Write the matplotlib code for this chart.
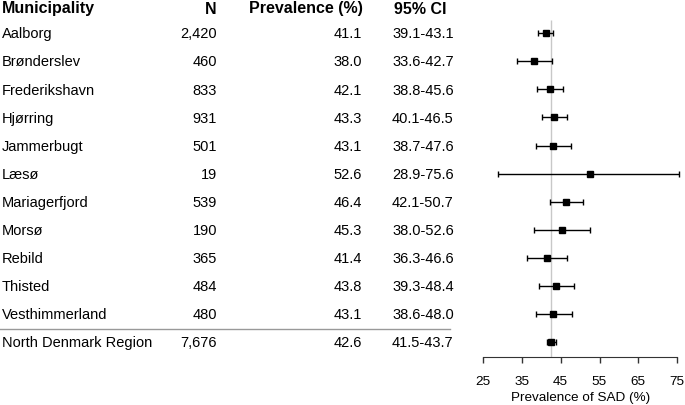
import matplotlib.pyplot as plt
import matplotlib.transforms as mtransforms

plt.rcParams["font.family"] = ["Liberation Sans", "DejaVu Sans"]

municipalities = [
    "Aalborg", "Brønderslev", "Frederikshavn", "Hjørring", "Jammerbugt",
    "Læsø", "Mariagerfjord", "Morsø", "Rebild", "Thisted",
    "Vesthimmerland", "North Denmark Region",
]
n_obs = [2420, 460, 833, 931, 501, 19, 539, 190, 365, 484, 480, 7676]
prevalence = [41.1, 38.0, 42.1, 43.3, 43.1, 52.6, 46.4, 45.3, 41.4, 43.8, 43.1, 42.6]
ci_low = [39.1, 33.6, 38.8, 40.1, 38.7, 28.9, 42.1, 38.0, 36.3, 39.3, 38.6, 41.5]
ci_high = [43.1, 42.7, 45.6, 46.5, 47.6, 75.6, 50.7, 52.6, 46.6, 48.4, 48.0, 43.7]
overall = prevalence[-1]
xticks = [25, 35, 45, 55, 65, 75]

W, H = 685, 405
fig = plt.figure(figsize=(W / 100, H / 100), dpi=100)

# forest plot axes, placed in pixels so it lines up with the table text
left, right, axis_y = 483.3, 677.0, 356.7
ax = fig.add_axes([left / W, 1 - axis_y / H, (right - left) / W, axis_y / H])
row0, step = 33.3, 28.06
ax.set_xlim(25, 75)
ax.set_ylim((axis_y - row0) / step, -row0 / step)

rows = list(range(len(municipalities)))
ax.vlines(overall, (20 - row0) / step, (axis_y - row0) / step, color="#c8c8c8", lw=1, zorder=1)
ax.errorbar(
    prevalence, rows,
    xerr=[[p - l for p, l in zip(prevalence, ci_low)],
          [h - p for p, h in zip(prevalence, ci_high)]],
    fmt="s", color="black", ms=4.6, lw=1, capsize=2.3, capthick=1,
    clip_on=False, zorder=3,
)

for side in ("left", "top", "right"):
    ax.spines[side].set_visible(False)
ax.spines["bottom"].set_color("#333333")
ax.set_yticks([])
ax.set_xticks(xticks)
ax.tick_params(axis="x", length=4.5, width=1, color="#333333", labelsize=9.7, pad=9.5)
ax.set_xlabel("Prevalence of SAD (%)", fontsize=9.7, labelpad=3)

# table columns
tr = mtransforms.blended_transform_factory(fig.transFigure, ax.transData)
header_y = (9 - row0) / step
hdr = dict(fontsize=11.5, fontweight="bold", va="center", transform=tr)
ax.text(2 / W, header_y, "Municipality", ha="left", **hdr)
ax.text(217 / W, header_y, "N", ha="right", **hdr)
ax.text(362.5 / W, header_y, "Prevalence (%)", ha="right", **hdr)
ax.text(394 / W, header_y, "95% CI", ha="left", **hdr)

body = dict(fontsize=10.5, va="center", transform=tr, clip_on=False)
for i, name in enumerate(municipalities):
    y = i + 0.04
    ax.text(2 / W, y, name, ha="left", **body)
    ax.text(217 / W, y, f"{n_obs[i]:,}", ha="right", **body)
    ax.text(362 / W, y, f"{prevalence[i]:.1f}", ha="right", **body)
    ax.text(392 / W, y, f"{ci_low[i]:.1f}-{ci_high[i]:.1f}", ha="left", **body)

sep_y = (329.3 - row0) / step
ax.plot([0, 450 / W], [sep_y, sep_y], transform=tr, color="#999999", lw=1, clip_on=False)

fig.savefig("out.png", dpi=100)
